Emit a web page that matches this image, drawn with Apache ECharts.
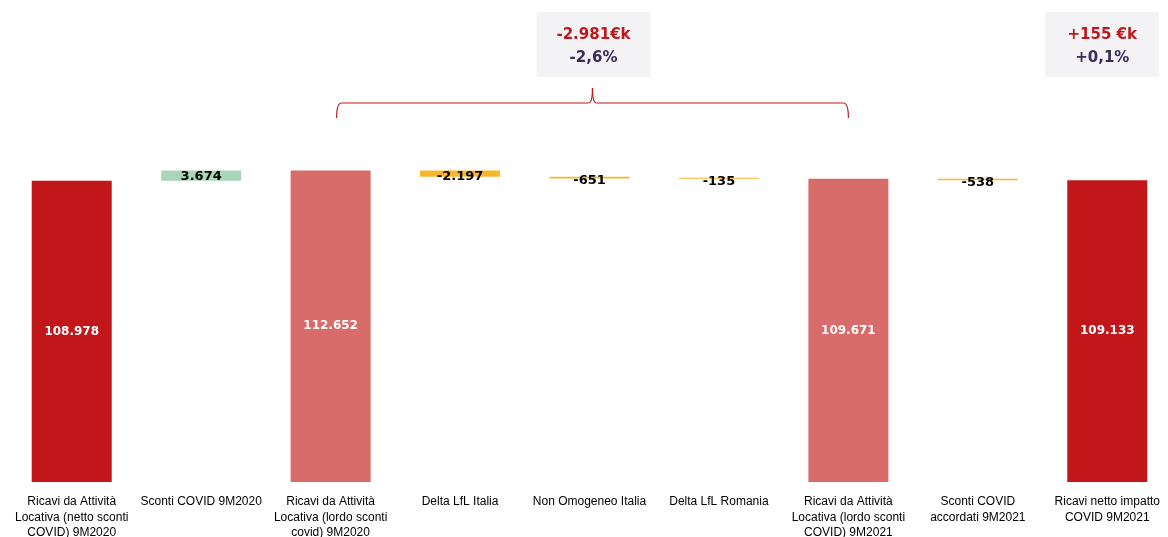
<!DOCTYPE html>
<html><head><meta charset="utf-8">
<script src="https://cdn.jsdelivr.net/npm/echarts@6/dist/echarts.min.js"></script>
<style>html,body{margin:0;padding:0;background:#fff}#c{width:1168px;height:537px}</style>
</head><body><div id="c"></div>
<script>
const categories = [
  'Ricavi da Attività\nLocativa (netto sconti\nCOVID) 9M2020',
  'Sconti COVID 9M2020',
  'Ricavi da Attività\nLocativa (lordo sconti\ncovid) 9M2020',
  'Delta LfL Italia',
  'Non Omogeneo Italia',
  'Delta LfL Romania',
  'Ricavi da Attività\nLocativa (lordo sconti\nCOVID) 9M2021',
  'Sconti COVID\naccordati 9M2021',
  'Ricavi netto impatto\nCOVID 9M2021'
];
const values = [108978, 3674, 112652, -2197, -651, -135, 109671, -538, 109133];
const kinds = ['total', 'delta', 'subtotal', 'delta', 'delta', 'delta', 'subtotal', 'delta', 'total'];
const boxTexts = [
  { top: '-2.981€k', bottom: '-2,6%', from: 2, to: 6 },
  { top: '+155 €k', bottom: '+0,1%', from: 8, to: 8 }
];

const fmt = v => {
  const s = Math.abs(v).toString().replace(/\B(?=(\d{3})+(?!\d))/g, '.');
  return (v < 0 ? '-' : '') + s;
};

const base = [], bars = [];
let run = 0;
values.forEach((v, i) => {
  const k = kinds[i];
  let color;
  if (k === 'total' || k === 'subtotal') {
    base.push(0); run = v;
    color = k === 'total' ? '#C1171B' : '#D86C6B';
    bars.push({ value: v, itemStyle: { color }, label: { color: '#fff' } });
  } else {
    if (v >= 0) { base.push(run); run += v; color = '#A9D5B8'; }
    else { run += v; base.push(run); color = '#F8B62A'; }
    bars.push({ value: Math.abs(v), raw: v, itemStyle: { color }, label: { color: '#000', fontSize: 13, offset: [0, v < 0 ? 3 : 1] } });
  }
});

const chart = echarts.init(document.getElementById('c'));
chart.setOption({
  animation: false,
  grid: { left: 7, right: -4, top: 95, bottom: 55, outerBoundsMode: 'none', containLabel: false },
  xAxis: {
    type: 'category', data: categories,
    axisLine: { show: false }, axisTick: { show: false },
    axisLabel: { interval: 0, color: '#000', fontFamily: 'Liberation Sans', fontSize: 12, lineHeight: 15.5, margin: 12 }
  },
  yAxis: { type: 'value', min: 0, max: 140000, show: false, splitLine: { show: false } },
  series: [
    { type: 'bar', stack: 'w', data: base, barWidth: 80, itemStyle: { color: 'transparent' }, silent: true },
    {
      type: 'bar', stack: 'w', data: bars, barWidth: 80, barMinHeight: 1,
      label: {
        show: true, position: 'inside', fontWeight: 'bold', fontFamily: 'DejaVu Sans', fontSize: 12,
        formatter: p => fmt(p.data.raw !== undefined ? p.data.raw : p.data.value)
      }
    }
  ]
});

const px = i => chart.convertToPixel({ xAxisIndex: 0 }, i);
const graphics = [];
const red = '#C1171B';
boxTexts.forEach((b, idx) => {
  const cx = idx === 0 ? (px(b.from) + px(b.to)) / 2 + 4 : px(b.from) - 5;
  const w = 114, y0 = 12, h = 65;
  graphics.push({ type: 'rect', shape: { x: cx - w / 2, y: y0, width: w, height: h }, style: { fill: '#F3F3F6' } });
  graphics.push({ type: 'text', x: cx, y: 35, style: { text: b.top, fill: red, font: 'bold 15px "DejaVu Sans"', align: 'center', verticalAlign: 'middle' } });
  graphics.push({ type: 'text', x: cx, y: 58, style: { text: b.bottom, fill: '#3B2A5A', font: 'bold 15px "DejaVu Sans"', align: 'center', verticalAlign: 'middle' } });
  if (b.from !== b.to) {
    const x1 = px(b.from) + 6, x2 = px(b.to), m = (x1 + x2) / 2;
    const yl = 103, yb = 118, yt = 88;
    const st = { stroke: red, lineWidth: 1.2, fill: 'none' };
    graphics.push({ type: 'bezierCurve', shape: { x1: x1, y1: yb, cpx1: x1, cpy1: yl, x2: x1 + 5, y2: yl }, style: st });
    graphics.push({ type: 'line', shape: { x1: x1 + 5, y1: yl, x2: m - 4, y2: yl }, style: st });
    graphics.push({ type: 'bezierCurve', shape: { x1: m - 4, y1: yl, cpx1: m, cpy1: yl, x2: m, y2: yt }, style: st });
    graphics.push({ type: 'bezierCurve', shape: { x1: m, y1: yt, cpx1: m, cpy1: yl, x2: m + 4, y2: yl }, style: st });
    graphics.push({ type: 'line', shape: { x1: m + 4, y1: yl, x2: x2 - 5, y2: yl }, style: st });
    graphics.push({ type: 'bezierCurve', shape: { x1: x2 - 5, y1: yl, cpx1: x2, cpy1: yl, x2: x2, y2: yb }, style: st });
  }
});
chart.setOption({ graphic: graphics });
</script></body></html>
